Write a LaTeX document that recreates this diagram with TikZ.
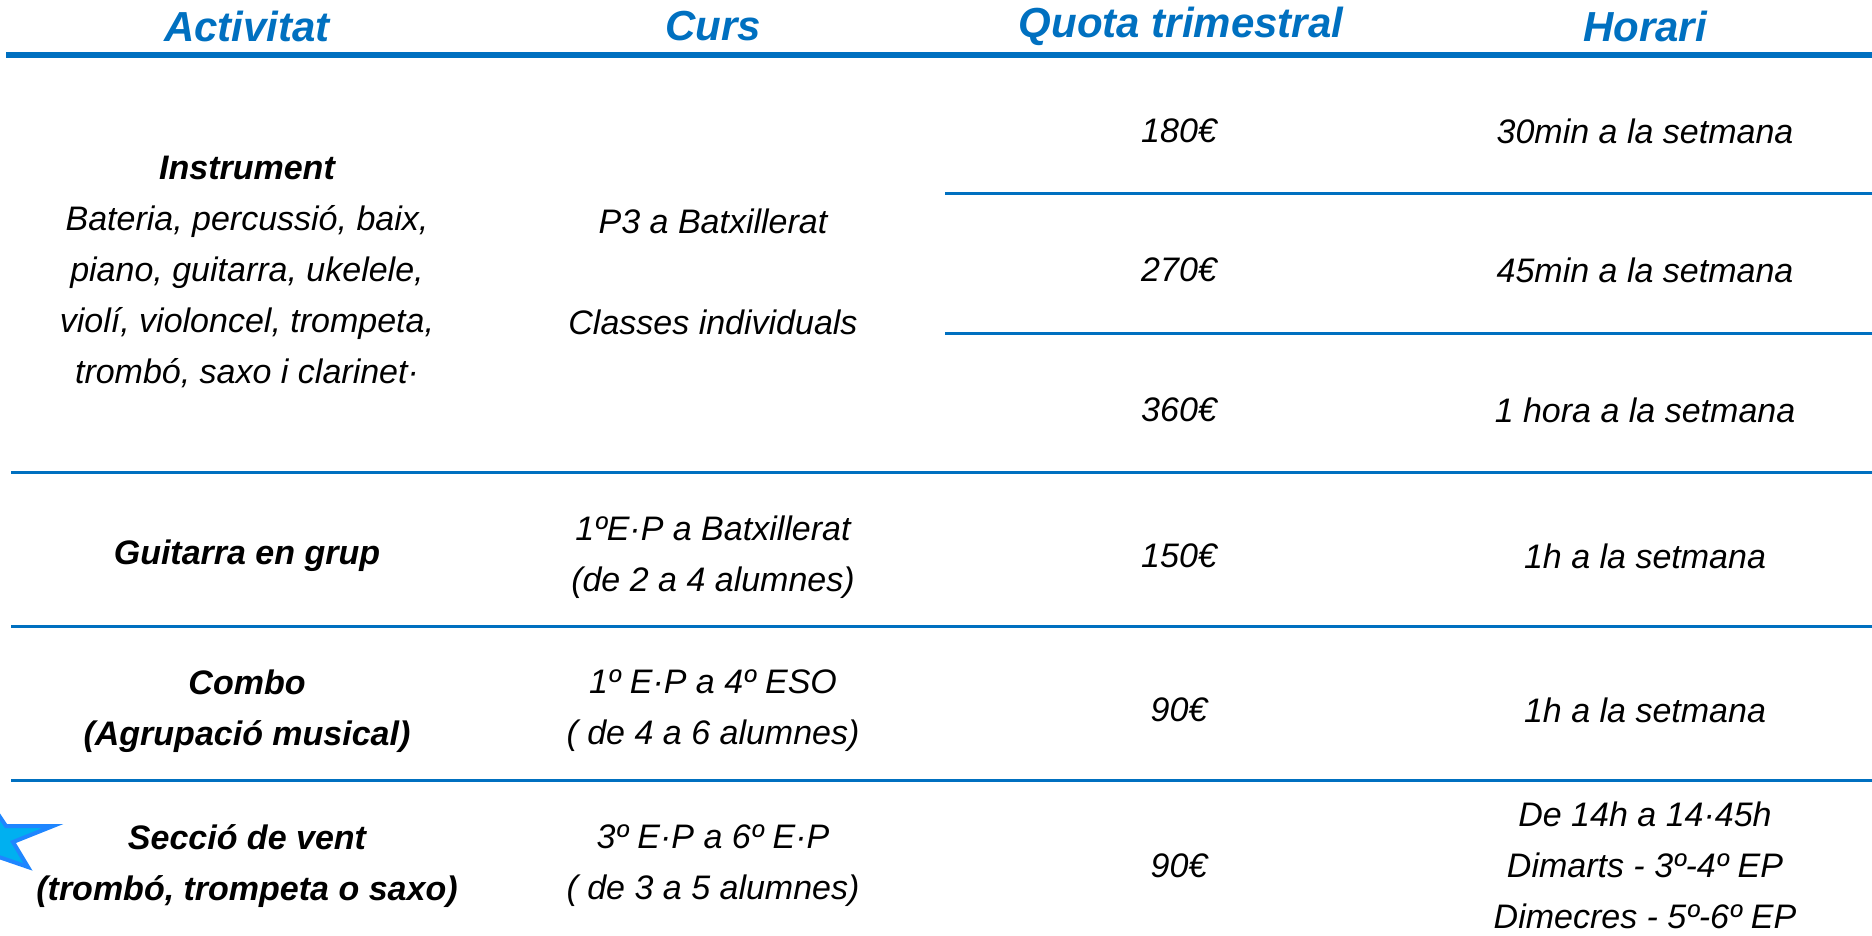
\documentclass[tikz,border=0pt]{standalone}
\usepackage{fontspec}
\setmainfont{Liberation Sans}
\definecolor{lineblue}{HTML}{0070C0}
\definecolor{starfill}{HTML}{00B0F0}
\definecolor{starline}{HTML}{1F86FF}
\begin{document}
\begin{tikzpicture}[x=0.5pt,y=-0.5pt,
  hdr/.style={font=\fontsize{21}{25}\selectfont\bfseries\itshape, text=lineblue, inner sep=0pt},
  txt/.style={font=\fontsize{17}{25.5}\selectfont\itshape, inner sep=0pt, align=center},
  btxt/.style={font=\fontsize{17}{25.5}\selectfont\bfseries\itshape, inner sep=0pt, align=center},
  rule/.style={draw=lineblue, line width=1.5pt},
  hrule/.style={draw=lineblue, line width=3pt}]
\useasboundingbox (0,0) rectangle (1872,936);
\begin{scope}
\clip (0,0) rectangle (1872,936);
% star
\draw[fill=starfill, draw=starline, line width=2pt, line join=miter]
  (-14,796) -- (6,826) -- (53,826) -- (13,842) -- (28,867) -- (-4,856)
  -- (-30,880) -- (-22,846) -- (-55,828) -- (-20,826) -- cycle;
\end{scope}
% header
\node[hdr] (h1) at (247,26) {Activitat};
\node[hdr] (h2) at (713,26) {Curs};
\node[hdr] (h3) at (1181,26) {Quota trimestral};
\node[hdr] (h4) at (1645,26) {Horari};
\draw[hrule] (6,55) -- (1872,55);
% rules
\draw[rule] (945,194) -- (1872,194);
\draw[rule] (945,333) -- (1872,333);
\draw[rule] (11,472) -- (1872,472);
\draw[rule] (11,626) -- (1872,626);
\draw[rule] (11,780) -- (1872,780);
% row 1
\node[txt] (a1) at (247,272) {\textbf{Instrument}\\Bateria, percussió, baix,\\piano, guitarra, ukelele,\\violí, violoncel, trompeta,\\trombó, saxo i clarinet·};
\node[txt] (c1a) at (713,221) {P3 a Batxillerat};
\node[txt] (c1b) at (713,322) {Classes individuals};
\node[txt] (q1a) at (1179,131) {180€};
\node[txt] (q1b) at (1179,270) {270€};
\node[txt] (q1c) at (1179,410) {360€};
\node[txt] (t1a) at (1645,131) {30min a la setmana};
\node[txt] (t1b) at (1645,270) {45min a la setmana};
\node[txt] (t1c) at (1645,410) {1 hora a la setmana};
% row 2
\node[btxt] (a2) at (247,556) {Guitarra en grup};
\node[txt] (c2) at (713,557) {1ºE·P a Batxillerat\\(de 2 a 4 alumnes)};
\node[txt] (q2) at (1179,556) {150€};
\node[txt] (t2) at (1645,556) {1h a la setmana};
% row 3
\node[btxt] (a3) at (247,711) {Combo\\(Agrupació musical)};
\node[txt] (c3) at (713,711) {1º E·P a 4º ESO\\( de 4 a 6 alumnes)};
\node[txt] (q3) at (1179,710) {90€};
\node[txt] (t3) at (1645,710) {1h a la setmana};
% row 4
\node[btxt] (a4) at (247,866) {Secció de vent\\(trombó, trompeta o saxo)};
\node[txt] (c4) at (713,866) {3º E·P a 6º E·P\\( de 3 a 5 alumnes)};
\node[txt] (q4) at (1179,866) {90€};
\node[txt] (t4) at (1645,865) {De 14h a 14·45h\\Dimarts - 3º-4º EP\\Dimecres - 5º-6º EP};
\end{tikzpicture}
\end{document}
